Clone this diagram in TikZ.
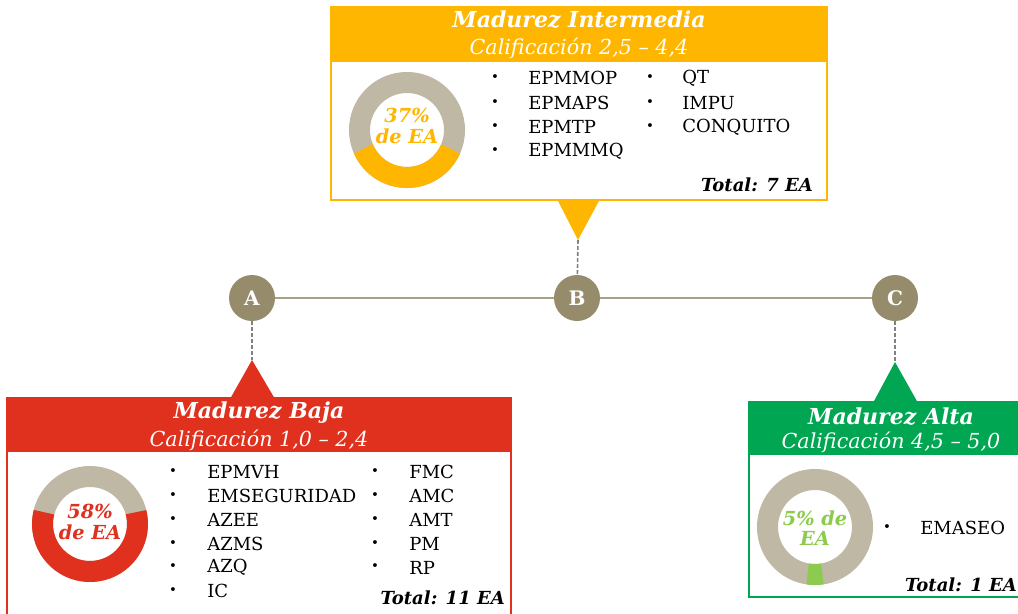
\documentclass[tikz,border=0pt]{standalone}
\usepackage{fontspec}
\setmainfont{DejaVu Serif}
\usetikzlibrary{positioning}

\definecolor{naranja}{HTML}{FFB600}
\definecolor{rojo}{HTML}{E0301E}
\definecolor{verde}{HTML}{00A651}
\definecolor{verdeclaro}{HTML}{8DCB4F}
\definecolor{grisanillo}{HTML}{BFB8A5}
\definecolor{grishito}{HTML}{968B6B}
\definecolor{griseje}{HTML}{A9A088}

\tikzset{
  hito/.style={circle,fill=grishito,minimum size=34.5pt,inner sep=0pt,
    text=white,font=\fontsize{15}{15}\selectfont\bfseries},
  eje/.style={draw=griseje,line width=1.5pt},
  guion/.style={draw=gray,dashed,dash pattern=on 3pt off 1.5pt,line width=1.2pt},
  titulo/.style={text=white,inner sep=0pt,font=\fontsize{16.5}{16.5}\selectfont\bfseries\itshape},
  rango/.style={text=white,inner sep=0pt,font=\fontsize{15.5}{15.5}\selectfont\itshape},
  punto/.style={inner sep=0pt,font=\fontsize{10}{10}\selectfont},
  item/.style={anchor=west,inner sep=0pt,font=\fontsize{13.5}{13.5}\selectfont},
  total/.style={anchor=east,inner sep=0pt,font=\fontsize{13.5}{13.5}\selectfont\bfseries\itshape},
  cifra/.style={align=center,inner sep=0pt,font=\fontsize{14.5}{15.5}\selectfont\bfseries\itshape},
  anillo/.style={line width=15.75pt}
}

% ring chart: center x, center y, start and end angle of the share, colour
\newcommand{\anillo}[5]{%
  \draw[anillo,grisanillo] (#1,#2) circle[radius=47.5];
  \draw[anillo,#5] ([shift={(#3:47.5)}]#1,#2) arc[start angle=#3,end angle=#4,radius=47.5];
}

\begin{document}
\begin{tikzpicture}[x=0.75pt,y=0.75pt,yscale=-1,xscale=1]
\useasboundingbox (0,0) rectangle (1018,614);

% milestones on the axis
\node[hito] (A) at (252,298) {A};
\node[hito] (B) at (577,298) {B};
\node[hito] (C) at (895,298) {C};
\draw[eje] (A) -- (B) -- (C);

%Shape: box B (top)
\draw[naranja,line width=0.8pt,fill=white] (331,7) rectangle (827,200);
\fill[naranja] (331,7) rectangle (827,62);
\fill[naranja] (557,199) -- (578,240) -- (600,199) -- cycle;
\coordinate (pB) at (578,240);
\draw[guion] (pB) -- (B);

%Shape: box A (bottom left)
\draw[rojo,line width=0.8pt,fill=white] (7,398) rectangle (511,622);
\fill[rojo] (7,398) rectangle (511,452);
\fill[rojo] (230,399) -- (252,360) -- (275,399) -- cycle;
\coordinate (pA) at (252,360);
\draw[guion] (A) -- (pA);

%Shape: box C (bottom right)
\draw[verde,line width=0.8pt,fill=white] (749,402) rectangle (1030,597);
\fill[verde] (749,402) rectangle (1030,455);
\fill[verde] (873,403) -- (895,362) -- (918,403) -- cycle;
\coordinate (pC) at (895,362);
\draw[guion] (C) -- (pC);

% headers
\node[titulo] (tB) at (579,20) {Madurez Intermedia};
\node[rango] (rB) at (579,48) {Calificación 2,5 – 4,4};
\node[titulo] (tA) at (259,413) {Madurez Baja};
\node[rango] (rA) at (259,440) {Calificación 1,0 – 2,4};
\node[titulo] (tC) at (891,417) {Madurez Alta};
\node[rango] (rC) at (891,442) {Calificación 4,5 – 5,0};

% ring charts
\anillo{407}{130}{23.4}{156.6}{naranja}
\node[cifra,text=naranja] (cB) at (407,126) {37\%\\de EA};
\anillo{90}{524}{-14.4}{194.4}{rojo}
\node[cifra,text=rojo] (cA) at (90,522) {58\%\\de EA};
\anillo{815}{527}{81}{99}{verdeclaro}
\node[cifra,text=verdeclaro] (cC) at (815,528) {5\% de\\EA};

% lists
\foreach \t [count=\i] in {EPMMOP,EPMAPS,EPMTP,EPMMMQ}{
  \node[punto] (bB1-\i) at (495,{54+24.3*\i}) {\textbullet};
  \node[item] (iB1-\i) at (528,{54+24.3*\i}) {\t};
}
\foreach \t [count=\i] in {QT,IMPU,CONQUITO}{
  \node[punto] (bB2-\i) at (650,{54+24.3*\i}) {\textbullet};
  \node[item] (iB2-\i) at (682,{54+24.3*\i}) {\t};
}
\foreach \t [count=\i] in {EPMVH,EMSEGURIDAD,AZEE,AZMS,AZQ,IC}{
  \node[punto] (bA1-\i) at (173,{448+23.9*\i}) {\textbullet};
  \node[item] (iA1-\i) at (207,{448+23.9*\i}) {\t};
}
\foreach \t [count=\i] in {FMC,AMC,AMT,PM,RP}{
  \node[punto] (bA2-\i) at (375,{448+23.9*\i}) {\textbullet};
  \node[item] (iA2-\i) at (409,{448+23.9*\i}) {\t};
}
\node[punto] (bC1-1) at (887,528) {\textbullet};
\node[item] (iC1-1) at (920,528) {EMASEO};

% totals
\node[total] (sB) at (813,185) {Total: 7 EA};
\node[total] (sA) at (505,598) {Total: 11 EA};
\node[total] (sC) at (1017,585) {Total: 1 EA};

\end{tikzpicture}
\end{document}
